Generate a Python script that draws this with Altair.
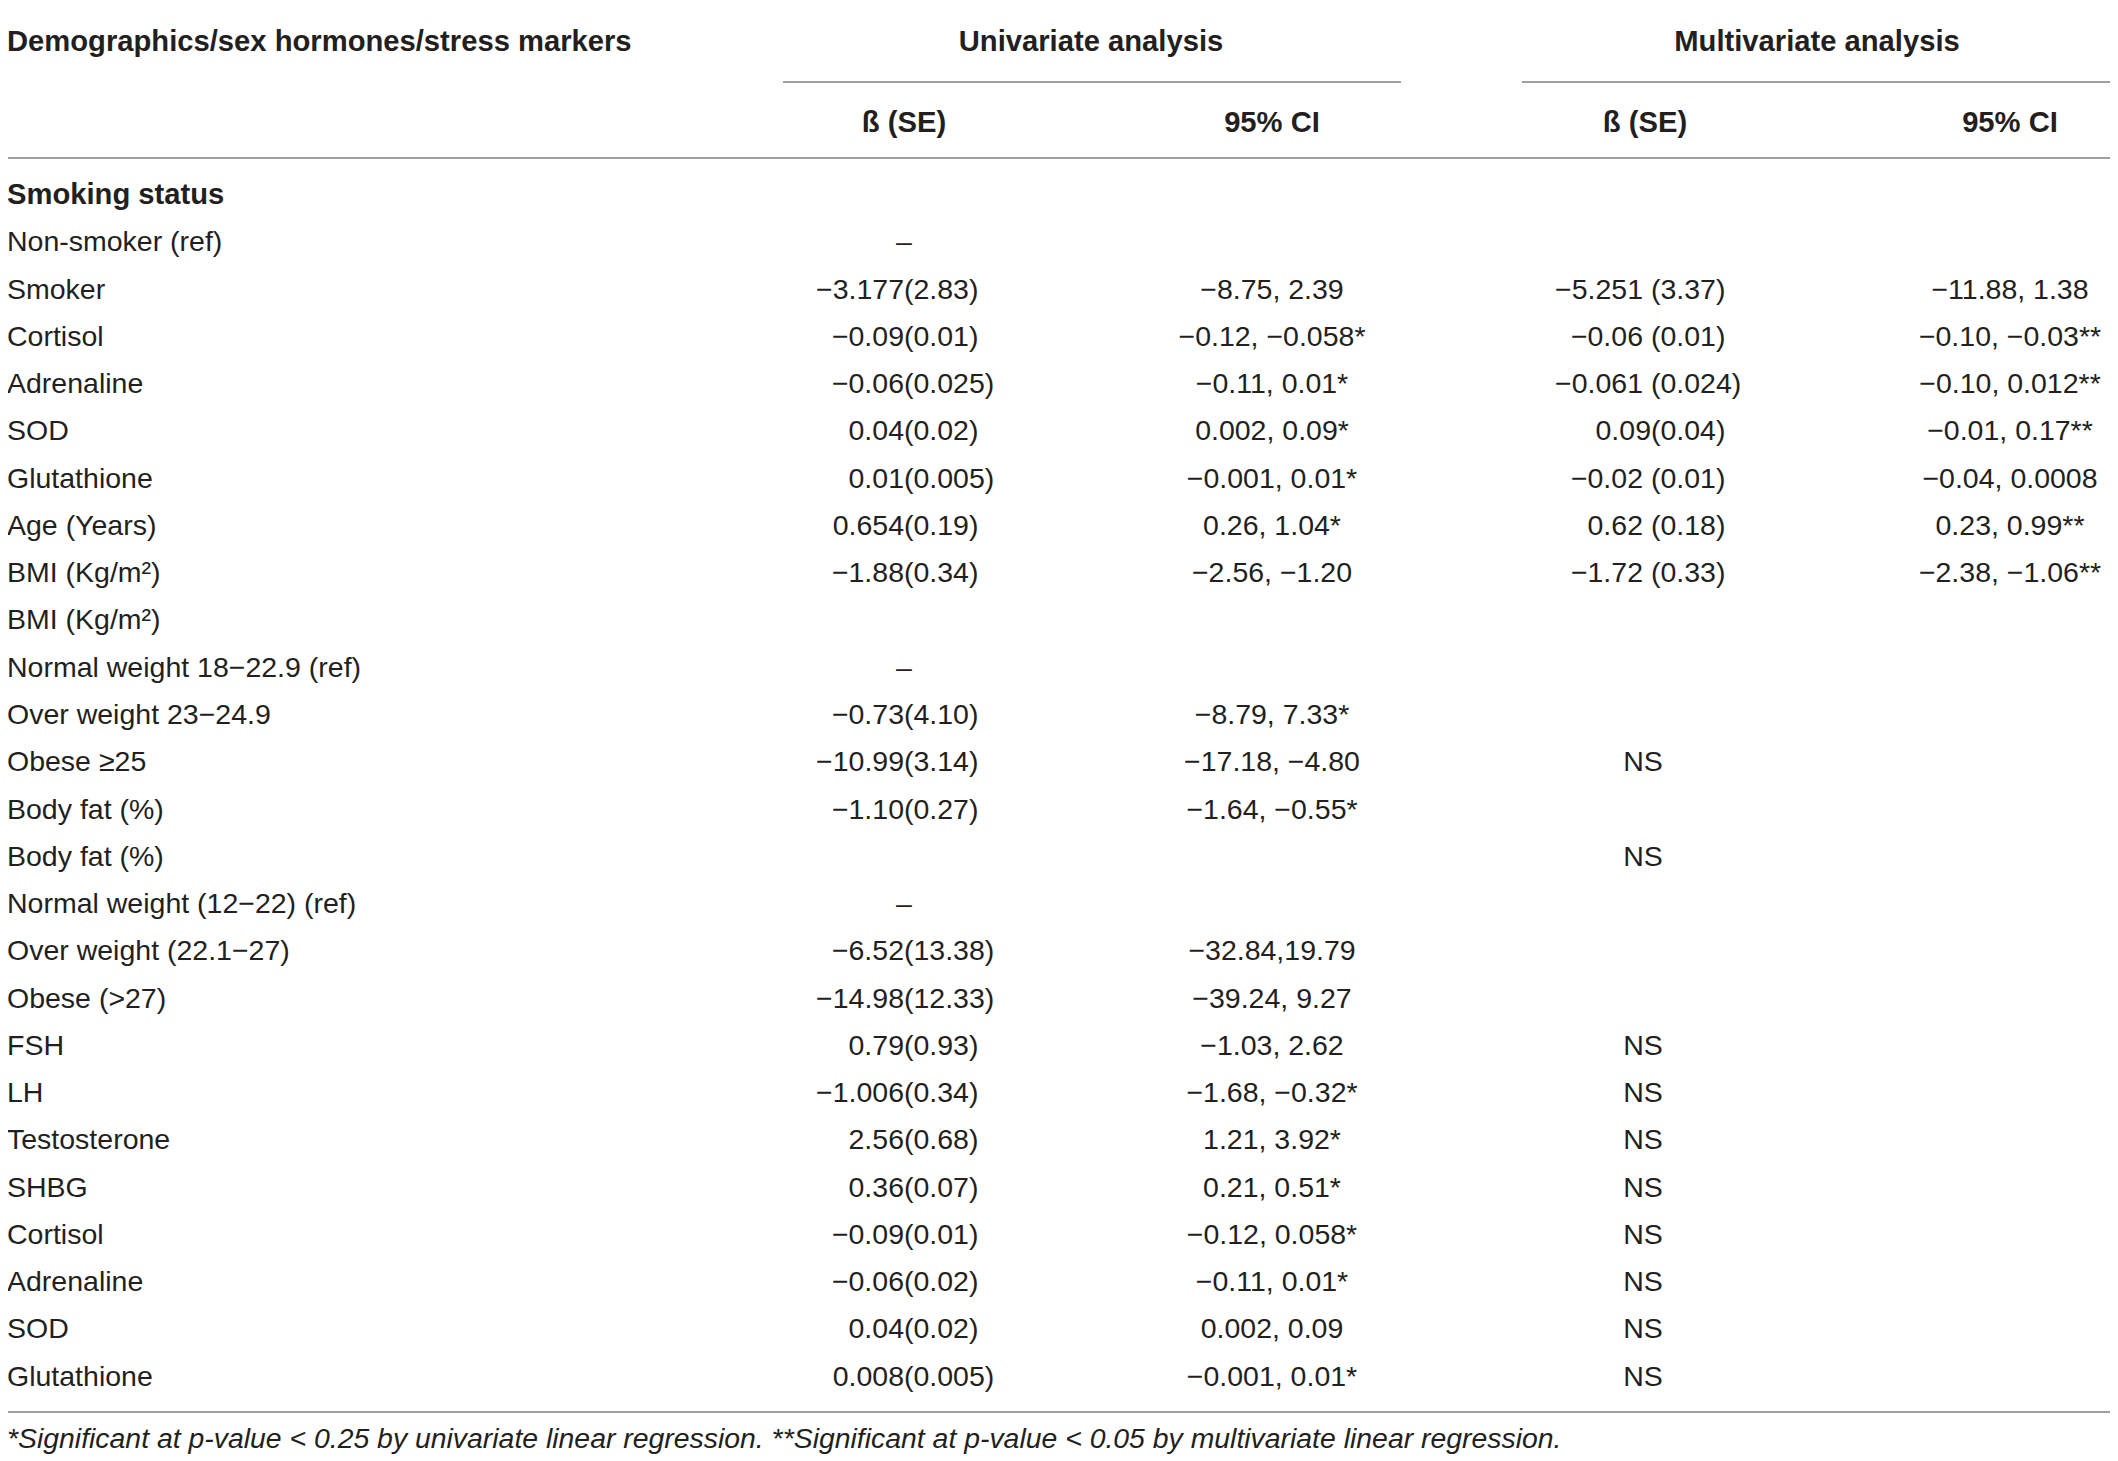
import altair as alt
import pandas as pd

# ---------------- data ----------------
labels = ["Smoking status", "Non-smoker (ref)", "Smoker", "Cortisol", "Adrenaline", "SOD",
          "Glutathione", "Age (Years)", "BMI (Kg/m²)", "BMI (Kg/m²)",
          "Normal weight 18−22.9 (ref)", "Over weight 23−24.9", "Obese ≥25", "Body fat (%)",
          "Body fat (%)", "Normal weight (12−22) (ref)", "Over weight (22.1−27)", "Obese (>27)",
          "FSH", "LH", "Testosterone", "SHBG", "Cortisol", "Adrenaline", "SOD", "Glutathione"]

univ_beta = ["", "–", "−3.177(2.83)", "−0.09(0.01)", "−0.06(0.025)", "0.04(0.02)", "0.01(0.005)",
             "0.654(0.19)", "−1.88(0.34)", "", "–", "−0.73(4.10)", "−10.99(3.14)", "−1.10(0.27)",
             "", "–", "−6.52(13.38)", "−14.98(12.33)", "0.79(0.93)", "−1.006(0.34)", "2.56(0.68)",
             "0.36(0.07)", "−0.09(0.01)", "−0.06(0.02)", "0.04(0.02)", "0.008(0.005)"]

univ_ci = ["", "", "−8.75, 2.39", "−0.12, −0.058*", "−0.11, 0.01*", "0.002, 0.09*", "−0.001, 0.01*",
           "0.26, 1.04*", "−2.56, −1.20", "", "", "−8.79, 7.33*", "−17.18, −4.80", "−1.64, −0.55*",
           "", "", "−32.84,19.79", "−39.24, 9.27", "−1.03, 2.62", "−1.68, −0.32*", "1.21, 3.92*",
           "0.21, 0.51*", "−0.12, 0.058*", "−0.11, 0.01*", "0.002, 0.09", "−0.001, 0.01*"]

multi_beta = ["", "", "−5.251 (3.37)", "−0.06 (0.01)", "−0.061 (0.024)", "0.09(0.04)", "−0.02 (0.01)",
              "0.62 (0.18)", "−1.72 (0.33)", "", "", "", "NS", "", "NS", "", "", "",
              "NS", "NS", "NS", "NS", "NS", "NS", "NS", "NS"]

multi_ci = ["", "", "−11.88, 1.38", "−0.10, −0.03**", "−0.10, 0.012**", "−0.01, 0.17**",
            "−0.04, 0.0008", "0.23, 0.99**", "−2.38, −1.06**"] + [""] * 17

header_top = ["Demographics/sex hormones/stress markers", "Univariate analysis", "Multivariate analysis"]
header_sub = ["ß (SE)", "95% CI", "ß (SE)", "95% CI"]
footnote = ("*Significant at p-value < 0.25 by univariate linear regression. "
            "**Significant at p-value < 0.05 by multivariate linear regression.")

# ---------------- layout (page pixel coordinates) ----------------
W, H = 2102, 1453
FONT = "Liberation Sans"
FS = 28.5
FSB = 29.2
TXT = "#231f20"
RULE = "#808080"
Y0, STEP = 195, 47.27
X_LABEL = 7
X_UB_PAREN, X_UB_C = 904, 904
X_UC = 1272
X_MB_PAREN, X_MB_C = 1651, 1643
X_MC = 2010
SPACE_W = 8

xs = alt.Scale(domain=[8, 8 + W], nice=False, zero=False)
ys = alt.Scale(domain=[8, 8 + H], nice=False, zero=False, reverse=True)

def rowy(i):
    return Y0 + i * STEP

rows_lbl = []
for i, t in enumerate(labels):
    rows_lbl.append({"x": X_LABEL, "y": rowy(i), "t": t, "bold": i == 0})
lbl_df = pd.DataFrame(rows_lbl)

right_parts, left_parts, center_parts = [], [], []
for col, px, cx in [(univ_beta, X_UB_PAREN, X_UB_C), (multi_beta, X_MB_PAREN, X_MB_C)]:
    for i, v in enumerate(col):
        if not v:
            continue
        if "(" in v:
            k = v.index("(")
            a = v[:k]
            off = SPACE_W if a.endswith(" ") else 0
            right_parts.append({"x": px - off, "y": rowy(i), "t": a.strip()})
            left_parts.append({"x": px, "y": rowy(i), "t": v[k:]})
        else:
            center_parts.append({"x": cx, "y": rowy(i), "t": v})
for col, cx in [(univ_ci, X_UC), (multi_ci, X_MC)]:
    for i, v in enumerate(col):
        if v:
            center_parts.append({"x": cx, "y": rowy(i), "t": v})

hdr = pd.DataFrame([
    {"x": X_LABEL, "y": 42, "t": header_top[0], "a": "left"},
    {"x": 1091, "y": 42, "t": header_top[1], "a": "center"},
    {"x": 1817, "y": 42, "t": header_top[2], "a": "center"},
    {"x": 904, "y": 123, "t": header_sub[0], "a": "center"},
    {"x": X_UC, "y": 123, "t": header_sub[1], "a": "center"},
    {"x": 1645, "y": 123, "t": header_sub[2], "a": "center"},
    {"x": X_MC, "y": 123, "t": header_sub[3], "a": "center"},
])

rules = pd.DataFrame([
    {"x": 7, "x2": 2116, "y": 5.5},
    {"x": 783, "x2": 1401, "y": 82},
    {"x": 1522, "x2": 2116, "y": 82},
    {"x": 7, "x2": 2116, "y": 158},
    {"x": 7, "x2": 2116, "y": 1412},
])

foot_df = pd.DataFrame([{"x": X_LABEL, "y": 1439, "t": footnote}])


def text_layer(df, align, weight="normal", style="normal", size=FS):
    return alt.Chart(df).mark_text(
        align=align, baseline="middle", font=FONT, fontSize=size,
        fontWeight=weight, fontStyle=style, color=TXT
    ).encode(
        x=alt.X("x:Q", scale=xs, axis=None),
        y=alt.Y("y:Q", scale=ys, axis=None),
        text="t:N",
    )

layers = [
    alt.Chart(rules).mark_rule(color=RULE, strokeWidth=1.6).encode(
        x=alt.X("x:Q", scale=xs, axis=None), x2="x2:Q",
        y=alt.Y("y:Q", scale=ys, axis=None)),
    text_layer(hdr[hdr.a == "left"], "left", weight="bold", size=FSB),
    text_layer(hdr[hdr.a == "center"], "center", weight="bold", size=FSB),
    text_layer(lbl_df[lbl_df.bold], "left", weight="bold", size=FSB),
    text_layer(lbl_df[~lbl_df.bold], "left"),
    text_layer(pd.DataFrame(right_parts), "right"),
    text_layer(pd.DataFrame(left_parts), "left"),
    text_layer(pd.DataFrame(center_parts), "center"),
    text_layer(foot_df, "left", style="italic", size=28.4),
]

chart = alt.layer(*layers).properties(
    width=W, height=H, padding=0, autosize=alt.AutoSizeParams(type="none")
).configure_view(strokeWidth=0)

chart.save("out.html", embed_options={"renderer": "svg", "actions": False})
